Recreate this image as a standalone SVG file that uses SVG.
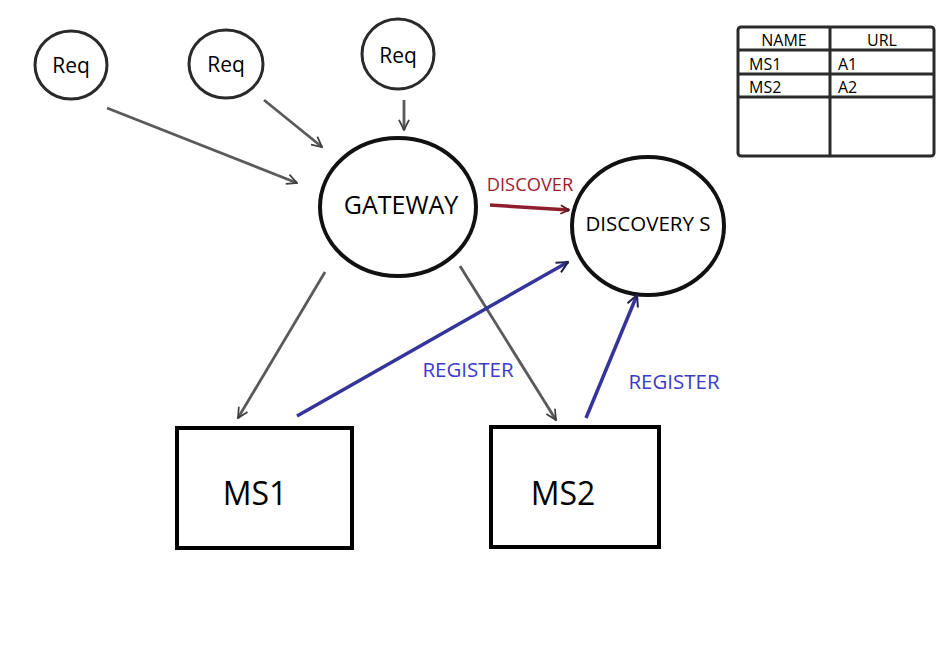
<svg xmlns="http://www.w3.org/2000/svg" width="951" height="659" viewBox="0 0 951 659">
<style>
.t{font-family:"Open Sans","Liberation Sans",sans-serif;fill:#000;text-anchor:middle}
.circ{fill:#fff;stroke:#111;stroke-width:4}
.req{fill:#fff;stroke:#2a2a2a;stroke-width:3}
.box{fill:#fff;stroke:#000;stroke-width:4}
.gray{fill:none;stroke:#5a5a5a;stroke-width:2.8;marker-end:url(#ag)}
.blue{fill:none;stroke:#34349a;stroke-width:3.5;marker-end:url(#ab)}
.red{fill:none;stroke:#8e1d2e;stroke-width:3.5;marker-end:url(#ar)}
.tbl{fill:none;stroke:#2a2a2a;stroke-width:3}
</style>
<defs>
<marker id="ag" viewBox="0 0 10 10" refX="9" refY="5" markerWidth="4.5" markerHeight="4.5" orient="auto" markerUnits="strokeWidth"><path d="M1,1 L9,5 L1,9" fill="none" stroke="#404040" stroke-width="1.4"/></marker>
<marker id="ab" viewBox="0 0 10 10" refX="9" refY="5" markerWidth="4" markerHeight="4" orient="auto" markerUnits="strokeWidth"><path d="M1,1 L9,5 L1,9" fill="none" stroke="#1f1f4a" stroke-width="1.4"/></marker>
<marker id="ar" viewBox="0 0 10 10" refX="9" refY="5" markerWidth="3" markerHeight="3" orient="auto" markerUnits="strokeWidth"><path d="M1,1 L9,5 L1,9" fill="none" stroke="#5a1a22" stroke-width="1.6"/></marker>
</defs>
<rect width="951" height="659" fill="#fff"/>
<g id="req1"><ellipse class="req" cx="71" cy="65" rx="36" ry="34"/><text class="t" x="71" y="73" font-size="21">Req</text></g>
<g id="req2"><ellipse class="req" cx="226" cy="64" rx="37" ry="34"/><text class="t" x="226" y="72" font-size="21">Req</text></g>
<g id="req3"><ellipse class="req" cx="398" cy="54" rx="36" ry="35"/><text class="t" x="398" y="63" font-size="21">Req</text></g>
<g id="gateway"><ellipse class="circ" cx="398" cy="207" rx="78" ry="69"/><text class="t" x="401" y="214" font-size="25">GATEWAY</text></g>
<g id="discovery"><ellipse class="circ" cx="648" cy="226" rx="76" ry="69"/><text class="t" x="648" y="231" font-size="20.5">DISCOVERY S</text></g>
<g id="ms1"><rect class="box" x="177" y="428" width="175" height="120"/><text class="t" x="255" y="505" font-size="32">MS1</text></g>
<g id="ms2"><rect class="box" x="491" y="427" width="168" height="120"/><text class="t" x="563" y="505" font-size="32">MS2</text></g>
<g id="table">
<rect class="tbl" x="738" y="27" width="196" height="129" rx="3"/>
<line class="tbl" x1="830" y1="27" x2="830" y2="156"/>
<line class="tbl" x1="738" y1="50" x2="934" y2="50"/>
<line class="tbl" x1="738" y1="74" x2="934" y2="74"/>
<line class="tbl" x1="738" y1="97" x2="934" y2="97"/>
<text class="t" x="784" y="46" font-size="16">NAME</text>
<text class="t" x="882" y="46" font-size="16">URL</text>
<text class="t" x="749" y="70" font-size="16" style="text-anchor:start">MS1</text>
<text class="t" x="838" y="70" font-size="16" style="text-anchor:start">A1</text>
<text class="t" x="749" y="93" font-size="16" style="text-anchor:start">MS2</text>
<text class="t" x="838" y="93" font-size="16" style="text-anchor:start">A2</text>
</g>
<g id="connectors">
<line class="gray" x1="107" y1="108" x2="297" y2="183"/>
<line class="gray" x1="264" y1="100" x2="322" y2="147"/>
<line class="gray" x1="404" y1="100" x2="404" y2="130"/>
<line class="gray" x1="325" y1="272" x2="238" y2="418"/>
<line class="gray" x1="460" y1="266" x2="556" y2="420"/>
<line class="red" x1="490" y1="205" x2="569" y2="210"/>
<line class="blue" x1="297" y1="416" x2="568" y2="262"/>
<line class="blue" x1="586" y1="418" x2="637" y2="295"/>
<text class="t" x="530" y="191" font-size="18.3" style="fill:#9b1b30">DISCOVER</text>
<text class="t" x="468" y="377" font-size="20.5" style="fill:#3b3bc8">REGISTER</text>
<text class="t" x="674" y="389" font-size="20.5" style="fill:#3b3bc8">REGISTER</text>
</g>
</svg>
